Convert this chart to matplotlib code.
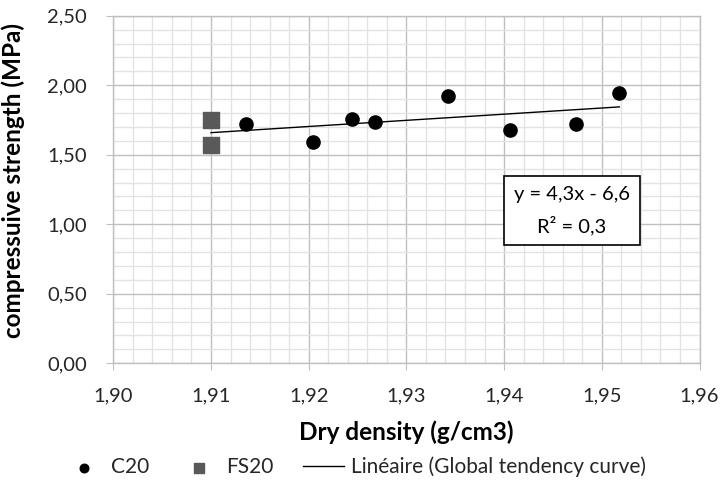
import numpy as np
import matplotlib.pyplot as plt
from matplotlib.ticker import MultipleLocator, FuncFormatter

plt.rcParams['font.family'] = ['Lato', 'DejaVu Sans']

# C20 samples
c20_density = [1.9136, 1.9204, 1.9244, 1.9268, 1.9343, 1.9406, 1.9474, 1.9518]
c20_strength = [1.72, 1.59, 1.755, 1.736, 1.925, 1.681, 1.719, 1.942]

# FS20 samples
fs20_density = [1.910, 1.910]
fs20_strength = [1.748, 1.567]

eq_label = "y = 4,3x - 6,6\nR² = 0,3"

fig = plt.figure(figsize=(7.23, 4.97), dpi=100)
ax = fig.add_axes([0.1567, 0.269, 0.8108, 0.6994])

ax.scatter(c20_density, c20_strength, s=9.5**2, color='black', marker='o',
           zorder=3, label='C20')
ax.scatter(fs20_density, fs20_strength, s=12**2, color='#595959', marker='s',
           zorder=3, label='FS20')

# global linear trend over both series
x_all = np.array(c20_density + fs20_density)
y_all = np.array(c20_strength + fs20_strength)
k, b = np.polyfit(x_all, y_all, 1)
xs = np.array([x_all.min(), x_all.max()])
ax.plot(xs, k * xs + b, color='black', lw=1.0, zorder=2,
        label='Linéaire (Global tendency curve)')

ax.set_xlim(1.90, 1.96)
ax.set_ylim(0, 2.5)
ax.xaxis.set_major_locator(MultipleLocator(0.01))
ax.xaxis.set_minor_locator(MultipleLocator(0.002))
ax.yaxis.set_major_locator(MultipleLocator(0.5))
ax.yaxis.set_minor_locator(MultipleLocator(0.1))
ax.xaxis.set_major_formatter(FuncFormatter(lambda v, p: f"{v:.2f}".replace('.', ',')))
ax.yaxis.set_major_formatter(FuncFormatter(lambda v, p: f"{v:.2f}".replace('.', ',')))

ax.grid(which='major', color='#bfbfbf', lw=1.0, zorder=0)
ax.grid(which='minor', color='#e3e3e3', lw=1.0, zorder=0)
ax.set_axisbelow(True)
ax.tick_params(which='major', length=5, color='#bfbfbf', labelsize=14.5,
               labelcolor='#262626')
ax.tick_params(axis='y', pad=14)
ax.tick_params(axis='x', pad=12)
ax.tick_params(which='minor', length=0)
for s in ax.spines.values():
    s.set_color('#bfbfbf')
    s.set_linewidth(1.0)

ax.set_xlabel('Dry density (g/cm3)', fontsize=17.5, fontweight='bold')
ax.set_ylabel('compressuive strength (MPa)', fontsize=17.5, fontweight='bold')
ax.xaxis.set_label_coords(0.5, -0.165)
ax.yaxis.set_label_coords(-0.15, 0.527)

ax.text(0.782, 0.44, eq_label, transform=ax.transAxes, ha='center', va='center',
        fontsize=14.5, color='black', linespacing=1.75,
        bbox=dict(boxstyle='square,pad=0.5', fc='white', ec='black', lw=1.2),
        zorder=5)

fig.legend(loc='center', bbox_to_anchor=(0.49, 0.06), ncol=3, frameon=False,
           fontsize=15, markerscale=0.65, handlelength=2.0, handletextpad=0.3,
           columnspacing=1.4, labelcolor='#262626')

fig.savefig('out.png', dpi=100)
